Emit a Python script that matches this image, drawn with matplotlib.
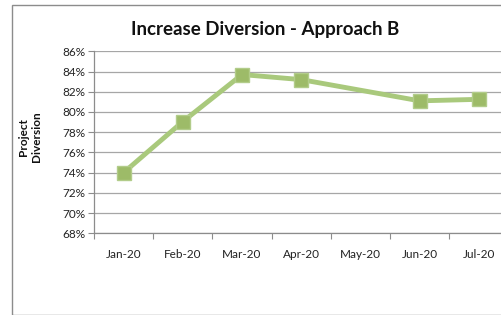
import matplotlib
matplotlib.use("Agg")
import matplotlib.pyplot as plt
from matplotlib.patches import Rectangle
import numpy as np

months = ["Jan-20", "Feb-20", "Mar-20", "Apr-20", "May-20", "Jun-20", "Jul-20"]
diversion = [74.0, 79.05, 83.7, 83.2, None, 81.1, 81.25]
yticks = [68, 70, 72, 74, 76, 78, 80, 82, 84, 86]

plt.rcParams['font.family'] = ['Lato', 'DejaVu Sans']

W, H = 502, 315
fig = plt.figure(figsize=(W / 100, H / 100), dpi=100)
fig.patch.set_facecolor('white')

# chart border (clipped at right/bottom like the reference)
fig.patches.append(Rectangle((12 / W, 0), 1.2, 1 - 5 / H, transform=fig.transFigure,
                             fill=False, edgecolor='#8c8c8c', linewidth=1.0))

left, right = 94 / W, 508.5 / W
top, bottom = 1 - 51.3 / H, 1 - 233.3 / H
ax = fig.add_axes([left, bottom, right - left, top - bottom])
ax.set_facecolor('none')

x = np.arange(len(months))
vals = np.array([np.nan if v is None else v for v in diversion])
mask = ~np.isnan(vals)
ax.plot(x[mask], vals[mask], color='#a9c97c', linewidth=3.5, solid_joinstyle='miter', zorder=3)
ax.plot(x[mask], vals[mask], linestyle='none', marker='s', markersize=10,
        markerfacecolor='#9dbb68', markeredgecolor='#b2cc8a', markeredgewidth=1.0, zorder=4)

ax.set_xlim(-0.5, len(months) - 0.5)
ax.set_ylim(68, 86)
ax.set_yticks(yticks)
ax.set_yticklabels([f"{v}%" for v in yticks], fontsize=8.5, color='#222222')
ax.set_xticks(x)
ax.set_xticklabels(months, fontsize=8.5, color='#222222')
ax.tick_params(axis='x', length=0, pad=11)
ax.set_xticks(np.arange(len(months) + 1) - 0.5, minor=True)
ax.tick_params(axis='x', which='minor', length=4, color='#8c8c8c', width=0.8)
ax.tick_params(axis='y', length=4, color='#8c8c8c', width=0.8, pad=2)
ax.grid(axis='y', color='#a6a6a6', linewidth=0.9)
ax.set_axisbelow(True)
for s in ['top', 'right']:
    ax.spines[s].set_visible(False)
for s in ['left', 'bottom']:
    ax.spines[s].set_color('#8c8c8c')
    ax.spines[s].set_linewidth(0.9)

fig.text(265 / W, 1 - 30 / H, "Increase Diversion - Approach B", ha='center', va='center',
         fontsize=13.5, fontweight='bold', color='#111111')
fig.text(30 / W, 1 - 137 / H, "Project\nDiversion", ha='center', va='center', rotation=90,
         fontsize=8.5, fontweight='bold', color='#111111', linespacing=1.15)

fig.savefig("out.png", dpi=100, facecolor='white')
